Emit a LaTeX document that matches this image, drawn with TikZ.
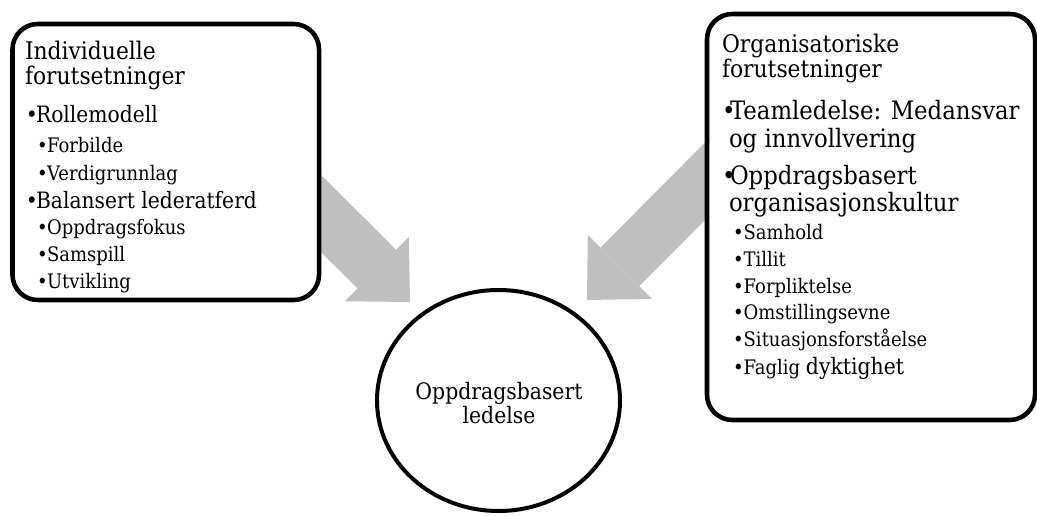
\documentclass[tikz,border=0pt]{standalone}
\usepackage{fontspec}
\setmainfont{DejaVu Serif}[FakeStretch=0.9]
\usetikzlibrary{arrows.meta,shapes.geometric}
\definecolor{arrowgray}{RGB}{191,191,191}
\newcommand\bul[1]{\makebox[#1][l]{•}}
\begin{document}
\begin{tikzpicture}[x=0.75pt,y=-0.75pt,
  box/.style={draw=black, line width=3.4pt, rounded corners=19pt, fill=white, inner sep=0pt},
  blockarrow/.style={draw=arrowgray, line width=41pt, -{Triangle[length=35pt,width=68pt,line width=0pt,fill=arrowgray]}},
  txt/.style={anchor=base west, inner sep=0pt, outer sep=0pt},
  ttl/.style={txt, font=\fontsize{18.2}{20}\selectfont},
  la/.style={txt, font=\fontsize{16.9}{18}\selectfont},
  lb/.style={txt, font=\fontsize{15}{16}\selectfont},
  ra/.style={txt, font=\fontsize{19}{20}\selectfont},
  goal/.style={draw=black, ellipse, line width=3pt, fill=white, inner sep=0pt,
    minimum width=182.25pt, minimum height=165.75pt},
  goaltxt/.style={anchor=base, inner sep=0pt, align=center,
    font=\fontsize{17}{15.75}\selectfont},
]
\fill[white] (0,0) rectangle (1037,516);
\useasboundingbox (0,0) rectangle (1037,516);
% arrow anchors
\coordinate (lstart) at (250,143);
\coordinate (ltip) at (410,302);
\coordinate (rstart) at (780,106);
\coordinate (rtip) at (587,300);
\draw[blockarrow] (lstart) -- (ltip);
\draw[blockarrow] (rstart) -- (rtip);
% boxes
\node[box, minimum width=229.9pt, minimum height=207pt] (lbox) at (165.75,162) {};
\node[box, minimum width=246pt, minimum height=304.5pt] (rbox) at (871,217) {};
% goal
\node[goal] (goal) at (498.5,400.5) {};
\node[goaltxt] (goaltext) at (499,423) {Oppdragsbasert\\ledelse};
% left texts
\node[ttl] (l1) at (25,60) {Individuelle};
\node[ttl] (l2) at (25,85) {forutsetninger};
\node[la] (l3) at (26,123) {\bul{7.5pt}Rollemodell};
\node[lb] (l4) at (37,153) {\bul{7.5pt}Forbilde};
\node[lb] (l5) at (37,181) {\bul{7.5pt}Verdigrunnlag};
\node[la] (l6) at (26,209) {\bul{7.5pt}Balansert lederatferd};
\node[lb] (l7) at (37,235) {\bul{7.5pt}Oppdragsfokus};
\node[lb] (l8) at (37,262) {\bul{7.5pt}Samspill};
\node[lb] (l9) at (37,288) {\bul{7.5pt}Utvikling};
% right texts
\node[ttl] (r1) at (722,53) {Organisatoriske};
\node[ttl] (r2) at (722,78) {forutsetninger};
\node[ra] (r3) at (722,120) {\bul{6pt}Teamledelse: Medansvar};
\node[ra] (r4) at (729,148) {og innvollvering};
\node[ra] (r5) at (722,185) {\bul{6pt}Oppdragsbasert};
\node[ra] (r6) at (729,212) {organisasjonskultur};
\node[lb] (r7) at (733,240) {\bul{8pt}Samhold};
\node[lb] (r8) at (733,267) {\bul{8pt}Tillit};
\node[lb] (r9) at (733,293) {\bul{8pt}Forpliktelse};
\node[lb] (r10) at (733,319) {\bul{8pt}Omstillingsevne};
\node[lb] (r11) at (733,346) {\bul{8pt}Situasjonsforståelse};
\node[lb] (r12) at (733,374) {\bul{8pt}Faglig {\fontsize{17}{18}\selectfont dyktighet}};
\end{tikzpicture}
\end{document}
